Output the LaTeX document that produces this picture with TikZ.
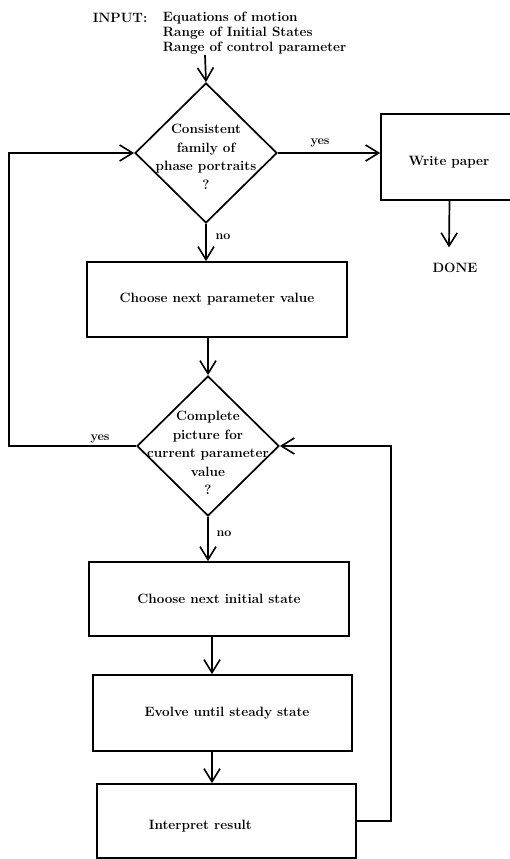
\documentclass[tikz,border=0pt]{standalone}
\usetikzlibrary{shapes.geometric,arrows.meta}
\begin{document}
\begin{tikzpicture}[x=1pt,y=-1pt, line width=1.7pt,
  arr/.style={-{Straight Barb[length=13pt,width=16pt,line width=1.6pt]}},
  box/.style={draw, rectangle, minimum width=260pt, minimum height=75pt, inner sep=0pt,
    font=\fontsize{13.5}{15}\selectfont\bfseries},
  dia/.style={draw, diamond, minimum width=142pt, minimum height=140pt, inner sep=0pt},
  txt/.style={font=\fontsize{13.5}{15}\selectfont\bfseries, inner sep=0pt, align=left},
  dtxt/.style={font=\fontsize{13.5}{18.5}\selectfont\bfseries, inner sep=0pt, align=center},
  lbl/.style={font=\fontsize{12.5}{14}\selectfont\bfseries, inner sep=0pt}]
\useasboundingbox (0,0) rectangle (509,859);
% input
\node[txt, anchor=north west] (inlab) at (92,12) {INPUT:};
\node[txt, anchor=north west] (inp) at (162,11) {Equations of motion\\Range of Initial States\\Range of control parameter};
\coordinate (instart) at (205,55);
% shapes
\node[dia] (d1) at (206,153) {};
\node[dtxt] (d1t) at (206,157) {Consistent\\family of\\phase portraits\\?};
\node[draw, rectangle, minimum width=139pt, minimum height=86pt, inner sep=0pt] (wp) at (450.5,157) {};
\node[txt] (wpt) at (449,162) {Write paper};
\node[txt] (done) at (455,268) {DONE};
\node[box] (b1) at (217,299.5) {Choose next parameter value};
\node[dia] (d2) at (208,446) {};
\node[dtxt] (d2t) at (208,453) {Complete\\picture for\\current parameter\\value\\?};
\node[box, minimum height=74pt] (b2) at (219,599) {Choose next initial state};
\node[box, minimum width=259pt, minimum height=76pt] (b3) at (222.5,713) {\hspace*{9pt}Evolve until steady state};
\node[box, minimum width=259pt, minimum height=74pt] (b4) at (226.5,821) {};
\node[txt, anchor=west] (b4t) at (148,826) {Interpret result};
\coordinate (lx) at (9,0);
\coordinate (rx) at (391,0);
% labels
\node[lbl] (y1) at (320,143) {yes};
\node[lbl] (n1) at (223,237) {no};
\node[lbl] (y2) at (100,439) {yes};
\node[lbl] (n2) at (224,534) {no};
% connectors
\draw[arr] (instart) -- (d1.north);
\draw[arr] (d1.east) -- (d1.east -| wp.west);
\draw[arr] ([xshift=-1pt]wp.south) -- ([xshift=-6pt,yshift=15pt]done.north);
\draw[arr] (d1.south) -- (d1.south |- b1.north);
\draw[arr] (b1.south -| d2.north) -- (d2.north);
\draw[arr] (d2.west) -- (d2.west -| lx) |- (d1.west);
\draw[arr] (d2.south) -- (d2.south |- b2.north);
\draw[arr] ([xshift=-7pt]b2.south) -- ([xshift=-7pt]b2.south |- b3.north);
\draw[arr] ([xshift=-10.5pt]b3.south) -- ([xshift=-10.5pt]b3.south |- b4.north);
\draw[arr] (b4.east) -- (b4.east -| rx) |- (d2.east);
\end{tikzpicture}
\end{document}
